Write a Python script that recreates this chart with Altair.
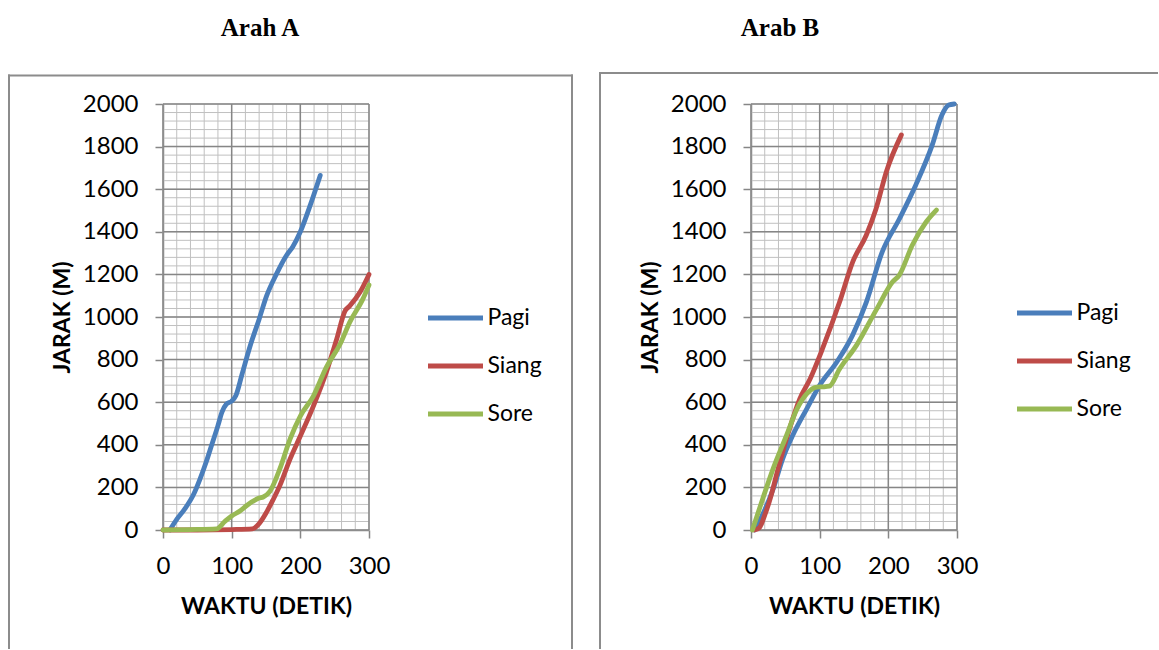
import altair as alt
import pandas as pd

series = ["Pagi", "Siang", "Sore"]
colors = ["#4A7EBB", "#BE4B48", "#98B954"]

# Arah A
a_pagi_t = [10, 20, 32, 45, 54, 63, 71, 80, 86, 92, 100, 106, 115, 127, 140, 151, 165, 180, 189, 200, 215, 229]
a_pagi_d = [0, 50, 100, 170, 240, 320, 400, 490, 555, 590, 605, 630, 730, 865, 990, 1100, 1200, 1290, 1330, 1400, 1530, 1665]
a_siang_t = [0, 50, 100, 130, 140, 151, 160, 170, 185, 200, 219, 238, 253, 265, 272, 287, 300]
a_siang_d = [0, 0, 2, 5, 30, 85, 140, 207, 333, 441, 582, 742, 897, 1028, 1052, 1117, 1200]
a_sore_t = [0, 40, 78, 90, 100, 112, 122, 129, 140, 146, 156, 170, 185, 200, 219, 238, 258, 272, 291, 300]
a_sore_d = [0, 2, 5, 40, 66, 89, 115, 131, 150, 155, 183, 286, 427, 535, 629, 765, 873, 976, 1084, 1150]

# Arah B
b_pagi_t = [5, 15, 32, 46, 61, 81, 100, 125, 148, 168, 191, 216, 240, 264, 278, 288, 296]
b_pagi_d = [0, 60, 190, 333, 446, 568, 680, 789, 915, 1070, 1305, 1460, 1620, 1808, 1948, 1995, 2000]
b_siang_t = [5, 12, 20, 30, 37, 56, 71, 86, 104, 129, 148, 168, 182, 197, 219]
b_siang_d = [0, 10, 70, 170, 258, 474, 615, 709, 850, 1070, 1258, 1385, 1507, 1681, 1855]
b_sore_t = [2, 17, 32, 52, 67, 81, 96, 105, 114, 129, 154, 183, 206, 216, 235, 255, 270]
b_sore_d = [0, 146, 286, 446, 568, 639, 671, 672, 675, 756, 869, 1037, 1164, 1197, 1338, 1446, 1502]

x_major = [0, 100, 200, 300]
x_minor = [0, 20, 40, 60, 80, 100, 120, 140, 160, 180, 200, 220, 240, 260, 280, 300]
y_major = [0, 200, 400, 600, 800, 1000, 1200, 1400, 1600, 1800, 2000]
y_minor = [0, 40, 80, 120, 160, 200, 240, 280, 320, 360, 400, 440, 480, 520, 560, 600, 640, 680,
           720, 760, 800, 840, 880, 920, 960, 1000, 1040, 1080, 1120, 1160, 1200, 1240, 1280, 1320,
           1360, 1400, 1440, 1480, 1520, 1560, 1600, 1640, 1680, 1720, 1760, 1800, 1840, 1880, 1920,
           1960, 2000]

titles = ["Arah A", "Arab B"]

W, H = 206, 426
GRID_MAJOR = "#868686"
GRID_MINOR = "#C0C0C0"
BORDER = "#8C8C8C"
FONT = "Lato"

X_AXIS = alt.Axis(
    values=x_major, grid=False, title="WAKTU (DETIK)", domainColor=GRID_MAJOR, domainWidth=1.5,
    tickColor=GRID_MAJOR, tickWidth=1.5, tickSize=8, labelPadding=16, labelFont=FONT,
    labelFontSize=24, labelColor="black", titleFont=FONT, titleFontSize=23, titleFontWeight="bold",
    titleColor="black", titleX=W / 2, titleY=76, titleAlign="center", titleBaseline="middle",
    labelFlush=False, format="d")
Y_AXIS = alt.Axis(
    values=y_major, grid=False, title="JARAK (M)", domainColor=GRID_MAJOR, domainWidth=1.5,
    tickColor=GRID_MAJOR, tickWidth=1.5, tickSize=8, labelPadding=17, labelFont=FONT,
    labelFontSize=24, labelColor="black", titleFont=FONT, titleFontSize=23, titleFontWeight="bold",
    titleColor="black", titleX=-101, titleY=H / 2, titleAngle=-90, titleAlign="center",
    titleBaseline="middle", labelFlush=False, format="d")


def make_df(parts):
    rows = []
    for name, ts, ds in parts:
        for i, (t, d) in enumerate(zip(ts, ds)):
            rows.append({"t": t, "d": d, "s": name, "i": i})
    return pd.DataFrame(rows)


ONE = pd.DataFrame({"k": [0]})


def seg(x1, y1, x2, y2, color=BORDER, opacity=1):
    return alt.Chart(ONE).mark_rule(color=color, strokeWidth=2, strokeCap="square", opacity=opacity).encode(
        x=alt.value(x1), y=alt.value(y1), x2=alt.value(x2), y2=alt.value(y2))


def panel(df, title_text, title_x, legend_x, legend_y, segments, anchor=False):
    xs = alt.Scale(domain=[0, 300], nice=False, zero=False)
    ys = alt.Scale(domain=[0, 2000], nice=False, zero=False)

    minor_v = alt.Chart(pd.DataFrame({"v": x_minor})).mark_rule(color=GRID_MINOR, strokeWidth=1).encode(
        x=alt.X("v:Q", scale=xs, axis=X_AXIS))
    minor_h = alt.Chart(pd.DataFrame({"v": y_minor})).mark_rule(color=GRID_MINOR, strokeWidth=1).encode(
        y=alt.Y("v:Q", scale=ys, axis=Y_AXIS))
    major_v = alt.Chart(pd.DataFrame({"v": x_major})).mark_rule(color=GRID_MAJOR, strokeWidth=1.5).encode(
        x=alt.X("v:Q", scale=xs, axis=X_AXIS))
    major_h = alt.Chart(pd.DataFrame({"v": y_major})).mark_rule(color=GRID_MAJOR, strokeWidth=1.5).encode(
        y=alt.Y("v:Q", scale=ys, axis=Y_AXIS))

    lines = alt.Chart(df).mark_line(interpolate="monotone", strokeWidth=4.8, strokeCap="round",
                                    strokeJoin="round").encode(
        x=alt.X("t:Q", scale=xs, axis=X_AXIS),
        y=alt.Y("d:Q", scale=ys, axis=Y_AXIS),
        color=alt.Color("s:N", scale=alt.Scale(domain=series, range=colors), legend=alt.Legend(
            orient="none", legendX=legend_x, legendY=legend_y, title=None, symbolType="stroke",
            symbolSize=3025, symbolStrokeWidth=5, clipHeight=24, rowPadding=24, labelOffset=2,
            labelFont=FONT, labelFontSize=23, labelColor="black", padding=0)),
        order="i:Q",
    )

    frame = [seg(*s) for s in segments]

    tdf = pd.DataFrame({"label": [title_text]})
    title = alt.Chart(tdf).mark_text(font="Liberation Serif", fontSize=25, fontWeight="bold",
                                     color="black", align="center", baseline="middle").encode(
        x=alt.value(title_x), y=alt.value(-76), text="label:N")

    layers = [minor_v, minor_h, major_v, major_h, lines] + frame + [title]
    if anchor:
        layers.append(seg(-163, -104, -163, -104, color="white", opacity=0))
    return alt.layer(*layers).properties(width=W, height=H)


df_a = make_df([("Pagi", a_pagi_t, a_pagi_d), ("Siang", a_siang_t, a_siang_d), ("Sore", a_sore_t, a_sore_d)])
df_b = make_df([("Pagi", b_pagi_t, b_pagi_d), ("Siang", b_siang_t, b_siang_d), ("Sore", b_sore_t, b_sore_d)])

border_a = [(-154, -28.5, -154, 544), (-154, -28.5, 409, -28.5), (409, -28.5, 409, 544)]
border_b = [(-151, -31, -151, 544), (-151, -31, 406, -31)]

left = panel(df_a, titles[0], 97, 262.5, 202, border_a, anchor=True)
right = panel(df_b, titles[1], 29, 263.5, 197, border_b)

chart = alt.hconcat(left, right, spacing=382, bounds="flush").resolve_scale(
    color="independent").properties(padding=0).configure_view(stroke=None)

chart.save("out.html", embed_options={"renderer": "svg", "actions": False})
